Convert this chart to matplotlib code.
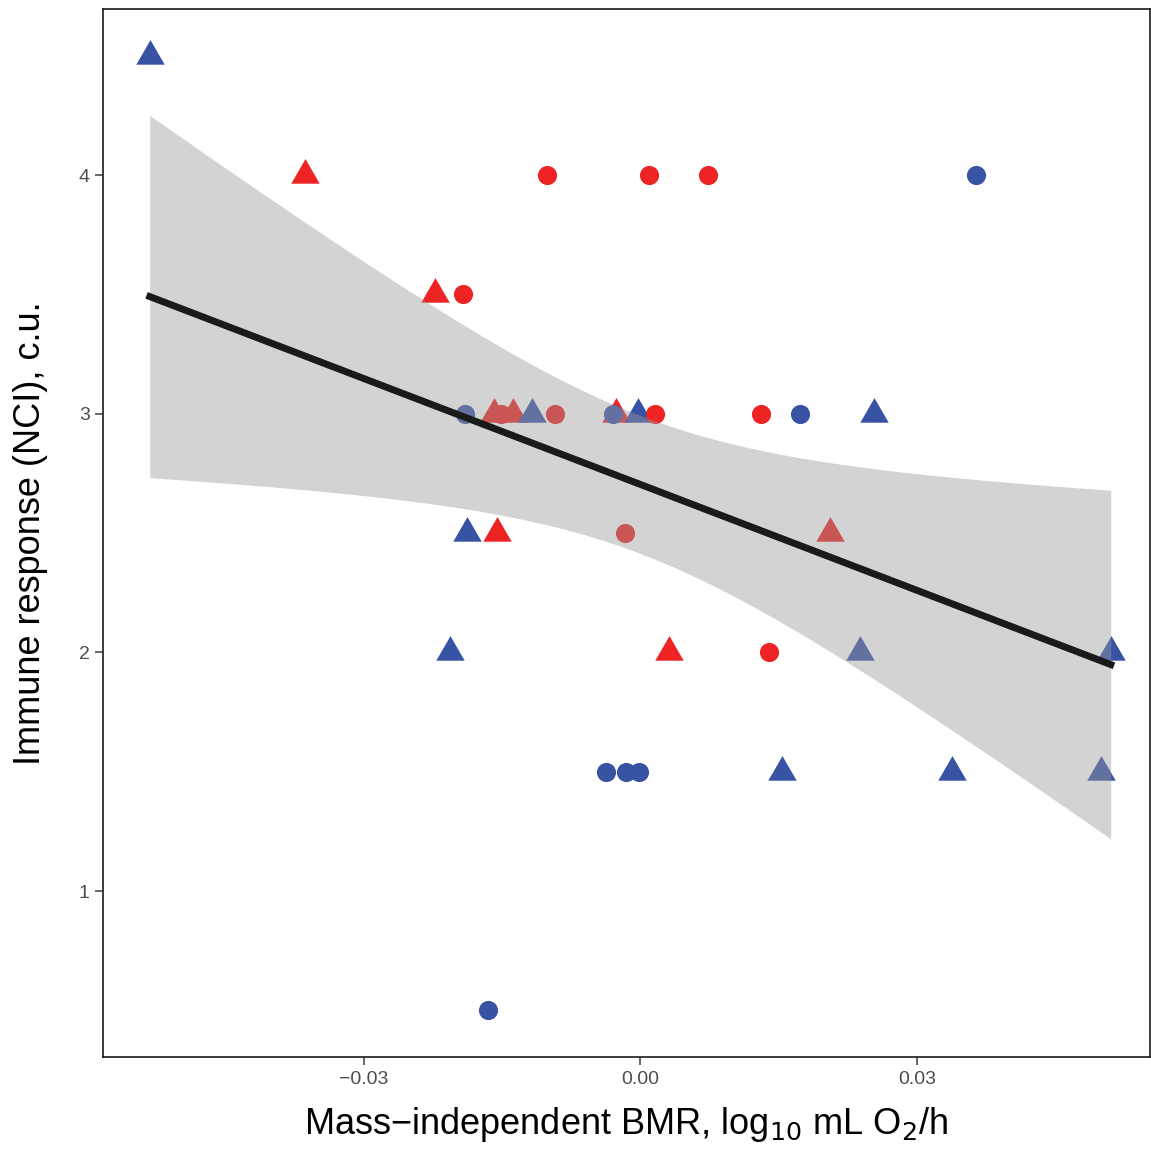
import numpy as np
import matplotlib.pyplot as plt

plt.rcParams['font.family'] = ['Liberation Sans', 'DejaVu Sans']

# BMR residuals (x), immune response (y), group and marker per bird
bmr = [-0.0532, -0.0364, -0.0101, 0.0009, 0.0073, 0.0364,
       -0.0223, -0.0192,
       -0.0159, -0.0138, -0.0151, -0.0190, -0.0118, -0.0093,
       -0.0027, -0.0030, -0.0003, 0.0016, 0.0131, 0.0173, 0.0253,
       -0.0188, -0.0155, -0.0017, 0.0206,
       -0.0207, 0.0031, 0.0139, 0.0238, 0.0510,
       -0.0037, -0.0016, -0.0001, 0.0154, 0.0338, 0.0499,
       -0.0165]
nci = [4.5, 4, 4, 4, 4, 4,
       3.5, 3.5,
       3, 3, 3, 3, 3, 3,
       3, 3, 3, 3, 3, 3, 3,
       2.5, 2.5, 2.5, 2.5,
       2, 2, 2, 2, 2,
       1.5, 1.5, 1.5, 1.5, 1.5, 1.5,
       0.5]
group = ['b', 'r', 'r', 'r', 'r', 'b',
         'r', 'r',
         'r', 'r', 'r', 'b', 'b', 'r',
         'r', 'b', 'b', 'r', 'r', 'b', 'b',
         'b', 'r', 'r', 'r',
         'b', 'r', 'r', 'b', 'b',
         'b', 'b', 'b', 'b', 'b', 'b',
         'b']
shape = ['t', 't', 'c', 'c', 'c', 'c',
         't', 'c',
         't', 't', 'c', 'c', 't', 'c',
         't', 'c', 't', 'c', 'c', 'c', 't',
         't', 't', 'c', 't',
         't', 't', 'c', 't', 't',
         'c', 'c', 'c', 't', 't', 't',
         'c']

colors = {'r': '#EE2323', 'b': '#3953A4'}
tri = [(-1, -0.577), (1, -0.577), (0, 1.155)]
markers = {'c': 'o', 't': tri}
sizes = {'c': 190, 't': 560}

x = np.array(bmr)
y = np.array(nci)

fig = plt.figure(figsize=(11.51, 11.49), dpi=100)
ax = fig.add_axes([0.0895, 0.080, 0.9095, 0.912])

for xi, yi, g, s in zip(bmr, nci, group, shape):
    ax.scatter(xi, yi, s=sizes[s], marker=markers[s], color=colors[g],
               linewidths=0, zorder=2)

# linear fit with 95% confidence band
n = len(x)
b1, b0 = np.polyfit(x, y, 1)
resid = y - (b0 + b1 * x)
s_err = np.sqrt(np.sum(resid ** 2) / (n - 2))
sxx = np.sum((x - x.mean()) ** 2)
t_crit = 2.03
xs = np.linspace(x.min(), x.max(), 200)
ys = b0 + b1 * xs
half = t_crit * s_err * np.sqrt(1 / n + (xs - x.mean()) ** 2 / sxx)
ax.fill_between(xs, ys - half, ys + half, color='#999999', alpha=0.43,
                linewidth=0, zorder=3)
ax.plot(xs, ys, color='#1A1A1A', lw=5, zorder=4)

ax.set_xlim(-0.05827, 0.05524)
ax.set_ylim(0.3046, 4.695)
ax.set_xticks([-0.03, 0.0, 0.03])
ax.set_xticklabels(['\u22120.03', '0.00', '0.03'])
ax.set_yticks([1, 2, 3, 4])
ax.tick_params(labelsize=14, colors='#4D4D4D', length=6, width=1.2)
ax.tick_params(axis='x', pad=4)
for sp in ax.spines.values():
    sp.set_linewidth(1.2)
    sp.set_color('#1A1A1A')

ax.set_xlabel('Mass\u2212independent BMR, log$_{10}$ mL O$_2$/h', fontsize=26,
              labelpad=12)
ax.set_ylabel('Immune response (NCI), c.u.', fontsize=26, labelpad=22)

fig.savefig('out.png', dpi=100)
